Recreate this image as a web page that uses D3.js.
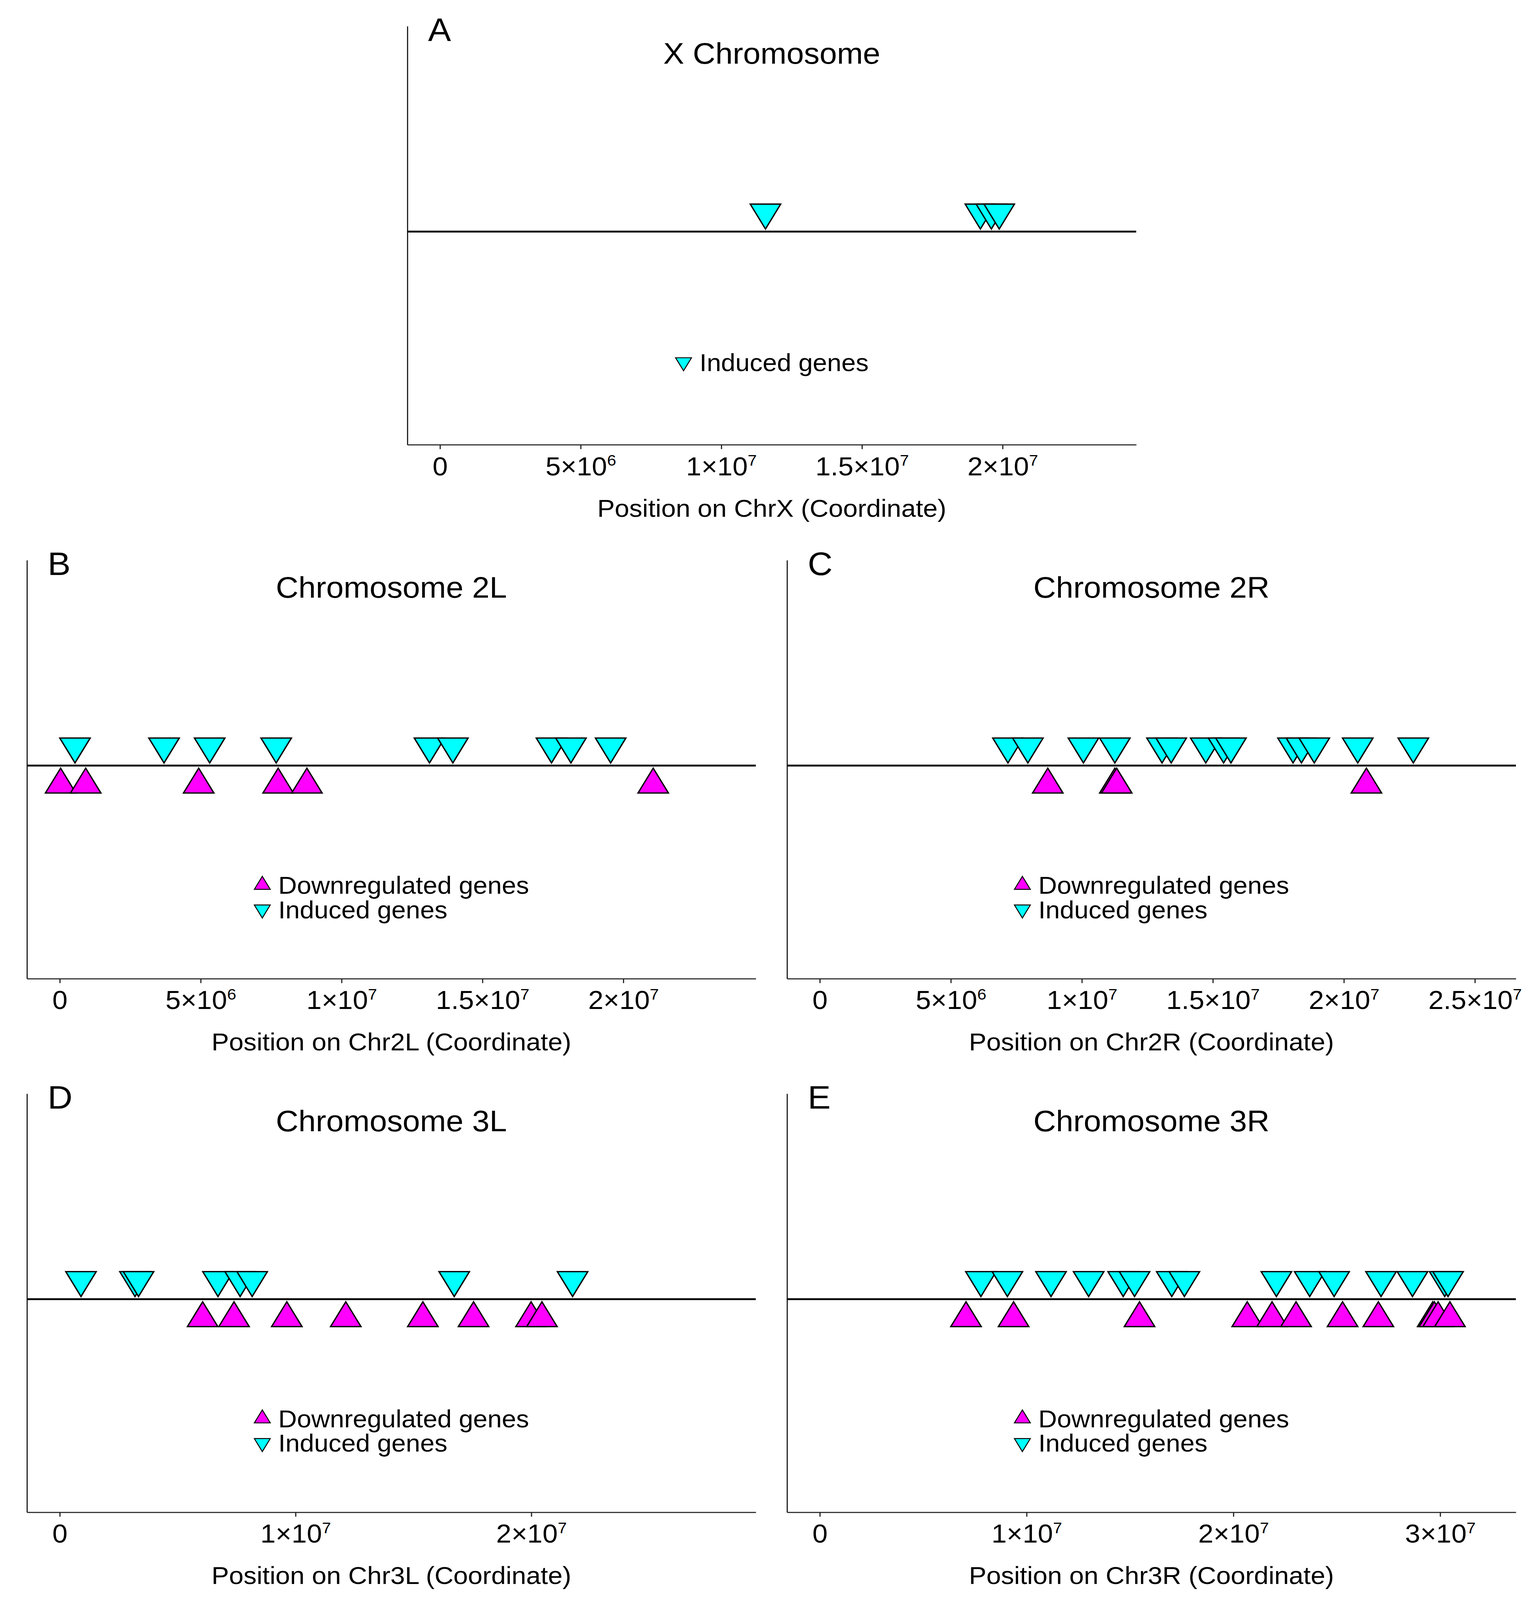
<!DOCTYPE html>
<html>
<head>
<meta charset="utf-8">
<script src="https://cdn.jsdelivr.net/npm/d3@7"></script>
<style>
  html, body { margin: 0; padding: 0; background: #fff; overflow: hidden; }
  svg { display: block; }
  text { font-family: "Liberation Sans", Arial, Helvetica, sans-serif; fill: #000; }
</style>
</head>
<body>
<div id="chart"></div>
<script>
// gene positions in bp
const chrXInduced = [11.57e6, 19.21e6, 19.60e6, 19.88e6];
const chrXDown = [];

const chr2LInduced = [0.54e6, 3.70e6, 5.32e6, 7.68e6, 13.12e6, 13.95e6, 17.45e6, 18.14e6, 19.55e6];
const chr2LDown = [0.03e6, 0.92e6, 4.93e6, 7.75e6, 8.77e6, 21.06e6];

const chr2RInduced = [7.18e6, 7.94e6, 10.06e6, 11.26e6, 13.06e6, 13.41e6, 14.73e6, 15.41e6, 15.69e6,
                      18.06e6, 18.38e6, 18.87e6, 20.53e6, 22.65e6];
const chr2RDown = [8.70e6, 11.26e6, 11.33e6, 20.86e6];

const chr3LInduced = [0.90e6, 3.19e6, 3.34e6, 6.71e6, 7.65e6, 8.16e6, 16.73e6, 21.75e6];
const chr3LDown = [6.06e6, 7.39e6, 9.63e6, 12.13e6, 15.40e6, 17.55e6, 19.99e6, 20.45e6];

const chr3RInduced = [7.79e6, 9.07e6, 11.18e6, 13.00e6, 14.67e6, 15.22e6, 17.02e6, 17.63e6,
                      22.08e6, 23.69e6, 24.87e6, 27.14e6, 28.66e6, 30.22e6, 30.38e6];
const chr3RDown = [7.07e6, 9.37e6, 15.46e6, 20.67e6, 21.87e6, 23.03e6, 25.28e6, 27.01e6,
                   29.64e6, 29.72e6, 29.90e6, 30.47e6];

// axis limits (bp)
const limX = [-1.16e6, 2.475e7];
const lim2L = [-1.165e6, 2.470e7];
const lim2R = [-1.2515e6, 2.6564e7];
const lim3L = [-1.392e6, 2.952e7];
const lim3R = [-1.586e6, 3.366e7];

// ticks
const ticks5M = [0, 5e6, 1e7, 1.5e7, 2e7];
const labels5M = ["0", "5×10^6", "1×10^7", "1.5×10^7", "2×10^7"];
const ticks2R = [0, 5e6, 1e7, 1.5e7, 2e7, 2.5e7];
const labels2R = ["0", "5×10^6", "1×10^7", "1.5×10^7", "2×10^7", "2.5×10^7"];
const ticks3L = [0, 1e7, 2e7];
const labels3L = ["0", "1×10^7", "2×10^7"];
const ticks3R = [0, 1e7, 2e7, 3e7];
const labels3R = ["0", "1×10^7", "2×10^7", "3×10^7"];

// track heights: induced above the line, downregulated below
const yInduced = 0.1, yDown = -0.1;

const width = 3930, height = 4339;
const panelW = 1866, panelH = 1135;

const panels = [
  { letter: "A", title: "X Chromosome", xlab: "Position on ChrX (Coordinate)",
    induced: chrXInduced, down: chrXDown, lim: limX, ticks: ticks5M, labels: labels5M, left: 1043, top: 71 },
  { letter: "B", title: "Chromosome 2L", xlab: "Position on Chr2L (Coordinate)",
    induced: chr2LInduced, down: chr2LDown, lim: lim2L, ticks: ticks5M, labels: labels5M, left: 69, top: 1519 },
  { letter: "C", title: "Chromosome 2R", xlab: "Position on Chr2R (Coordinate)",
    induced: chr2RInduced, down: chr2RDown, lim: lim2R, ticks: ticks2R, labels: labels2R, left: 2015, top: 1519 },
  { letter: "D", title: "Chromosome 3L", xlab: "Position on Chr3L (Coordinate)",
    induced: chr3LInduced, down: chr3LDown, lim: lim3L, ticks: ticks3L, labels: labels3L, left: 69, top: 2966 },
  { letter: "E", title: "Chromosome 3R", xlab: "Position on Chr3R (Coordinate)",
    induced: chr3RInduced, down: chr3RDown, lim: lim3R, ticks: ticks3R, labels: labels3R, left: 2015, top: 2966 }
];

const cyan = "#00ffff", magenta = "#ff00ff";
const bigTri = d3.symbol(d3.symbolTriangle).size(2630);
const smallTri = d3.symbol(d3.symbolTriangle).size(720);

// the window can be shorter than the figure, so stretch the figure to fill it
const svg = d3.select("#chart").append("svg")
  .attr("width", window.innerWidth || width)
  .attr("height", window.innerHeight || height)
  .attr("viewBox", `0 0 ${width} ${height}`)
  .attr("preserveAspectRatio", "none")
  .style("background", "#fff");

panels.forEach(p => {
  const g = svg.append("g").attr("transform", `translate(${p.left},${p.top})`);
  const x = d3.scaleLinear().domain(p.lim).range([0, panelW]);
  const y = d3.scaleLinear().domain([-1.11, 1.07]).range([panelH, 0]);

  // bottom axis
  const xAxis = d3.axisBottom(x).tickValues(p.ticks).tickSize(12).tickSizeOuter(0).tickPadding(21);
  const ax = g.append("g").attr("transform", `translate(0,${panelH})`).call(xAxis);
  ax.select(".domain").attr("stroke", "#222").attr("stroke-width", 3);
  ax.selectAll(".tick line").attr("stroke", "#222").attr("stroke-width", 3);
  ax.selectAll(".tick text")
    .attr("font-size", 70)
    .attr("font-family", '"Liberation Sans", Arial, sans-serif')
    .each(function(d) {
      const t = d3.select(this).text(null);
      const [m, e] = p.labels[p.ticks.indexOf(d)].split("^");
      t.append("tspan").text(m);
      if (e) t.append("tspan").attr("font-size", "0.6em").attr("dy", "-0.62em").text(e);
    });

  // left axis, line only
  const yAxis = d3.axisLeft(y).tickValues([]).tickSizeOuter(0);
  g.append("g").call(yAxis).select(".domain").attr("stroke", "#222").attr("stroke-width", 3);

  // chromosome line
  g.append("line")
    .attr("x1", 0).attr("x2", panelW)
    .attr("y1", y(0)).attr("y2", y(0))
    .attr("stroke", "#000").attr("stroke-width", 5);

  // downregulated genes (point up)
  g.selectAll(".down").data(p.down).join("path")
    .attr("class", "down")
    .attr("d", bigTri)
    .attr("transform", d => `translate(${x(d)},${y(yDown)})`)
    .attr("fill", magenta).attr("stroke", "#000").attr("stroke-width", 3.5)
    .attr("stroke-linejoin", "miter");

  // induced genes (point down)
  g.selectAll(".induced").data(p.induced).join("path")
    .attr("class", "induced")
    .attr("d", bigTri)
    .attr("transform", d => `translate(${x(d)},${y(yInduced)}) rotate(180)`)
    .attr("fill", cyan).attr("stroke", "#000").attr("stroke-width", 3.5)
    .attr("stroke-linejoin", "miter");

  // panel letter and title
  g.append("text").attr("x", 53).attr("y", 40).attr("font-size", 88).text(p.letter);
  g.append("text").attr("x", panelW / 2).attr("y", 102)
    .attr("text-anchor", "middle").attr("font-size", 80).text(p.title);

  // x label
  g.append("text").attr("x", panelW / 2).attr("y", panelH + 195)
    .attr("text-anchor", "middle").attr("font-size", 67).text(p.xlab);

  // legend
  const entries = [];
  if (p.down.length) entries.push({ label: "Downregulated genes", fill: magenta, rot: 0 });
  entries.push({ label: "Induced genes", fill: cyan, rot: 180 });
  const lg = g.append("g");
  const base0 = entries.length === 2 ? 905 : 935;
  let maxW = 0;
  entries.forEach((e, i) => {
    const by = base0 + i * 66;
    lg.append("path").attr("d", smallTri)
      .attr("transform", `translate(22,${by - 24}) rotate(${e.rot})`)
      .attr("fill", e.fill).attr("stroke", "#000").attr("stroke-width", 2.5);
    const t = lg.append("text").attr("x", 63).attr("y", by).attr("font-size", 66).text(e.label);
    maxW = Math.max(maxW, t.node().getComputedTextLength());
  });
  lg.attr("transform", `translate(${panelW / 2 - (63 + maxW) / 2},0)`);
});
</script>
</body>
</html>
